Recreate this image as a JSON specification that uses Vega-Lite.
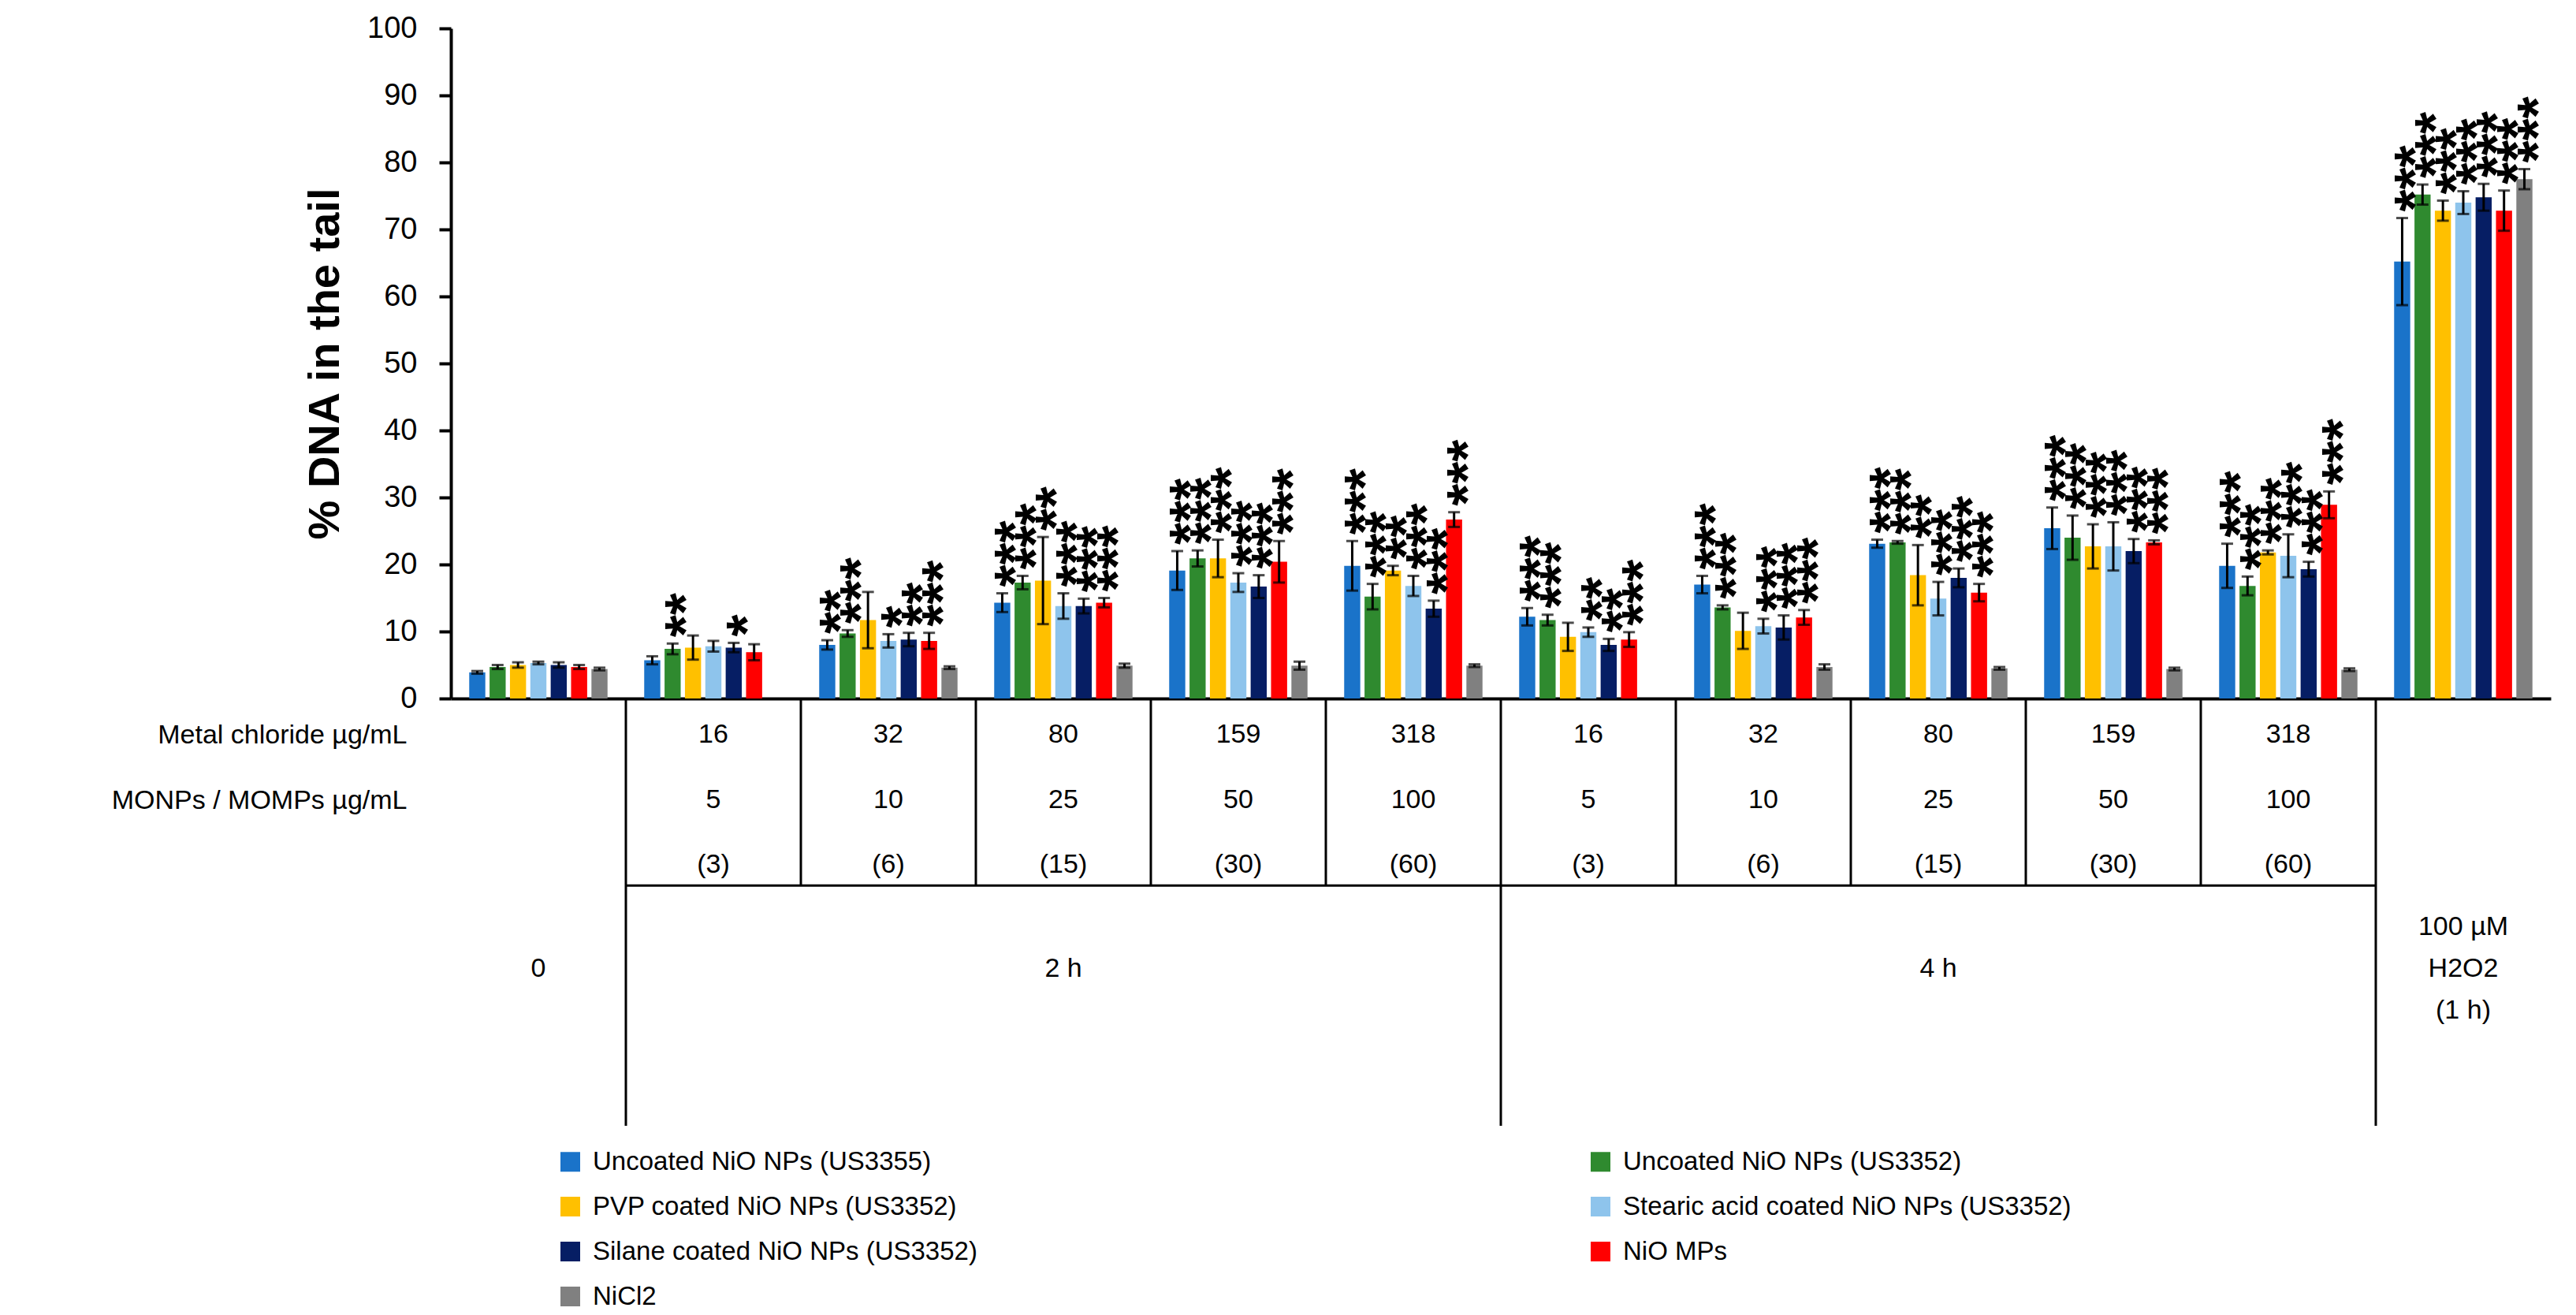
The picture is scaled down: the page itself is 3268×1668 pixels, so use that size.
{
  "$schema": "https://vega.github.io/schema/vega-lite/v6.json",
  "autosize": {"type": "pad"},
  "padding": {"left": 141, "top": 17, "right": 0, "bottom": 0},
  "background": "white",
  "bounds": "flush",
  "spacing": 0,
  "config": {"font": "Liberation Sans", "view": {"stroke": null}},
  "resolve": {"scale": {"x": "independent", "y": "independent"}},
  "datasets": {
    "bars": [
      {"g": "0", "s": "Uncoated NiO NPs (US3355)", "v": 3.9, "lo": 3.7, "hi": 4.1, "st": ""},
      {"g": "0", "s": "Uncoated NiO NPs (US3352)", "v": 4.7, "lo": 4.4, "hi": 5.0, "st": ""},
      {"g": "0", "s": "PVP coated NiO NPs (US3352)", "v": 5.0, "lo": 4.6, "hi": 5.4, "st": ""},
      {"g": "0", "s": "Stearic acid coated NiO NPs (US3352)", "v": 5.3, "lo": 5.1, "hi": 5.5, "st": ""},
      {"g": "0", "s": "Silane coated NiO NPs (US3352)", "v": 5.0, "lo": 4.6, "hi": 5.4, "st": ""},
      {"g": "0", "s": "NiO MPs", "v": 4.7, "lo": 4.4, "hi": 5.0, "st": ""},
      {"g": "0", "s": "NiCl2", "v": 4.4, "lo": 4.2, "hi": 4.6, "st": ""},

      {"g": "2h-16", "s": "Uncoated NiO NPs (US3355)", "v": 5.7, "lo": 5.1, "hi": 6.3, "st": ""},
      {"g": "2h-16", "s": "Uncoated NiO NPs (US3352)", "v": 7.4, "lo": 6.6, "hi": 8.2, "st": "**"},
      {"g": "2h-16", "s": "PVP coated NiO NPs (US3352)", "v": 7.6, "lo": 5.8, "hi": 9.4, "st": ""},
      {"g": "2h-16", "s": "Stearic acid coated NiO NPs (US3352)", "v": 7.8, "lo": 7.0, "hi": 8.6, "st": ""},
      {"g": "2h-16", "s": "Silane coated NiO NPs (US3352)", "v": 7.6, "lo": 6.9, "hi": 8.3, "st": "*"},
      {"g": "2h-16", "s": "NiO MPs", "v": 6.9, "lo": 5.7, "hi": 8.1, "st": ""},

      {"g": "2h-32", "s": "Uncoated NiO NPs (US3355)", "v": 8.0, "lo": 7.3, "hi": 8.7, "st": "**"},
      {"g": "2h-32", "s": "Uncoated NiO NPs (US3352)", "v": 9.7, "lo": 9.2, "hi": 10.2, "st": "***"},
      {"g": "2h-32", "s": "PVP coated NiO NPs (US3352)", "v": 11.7, "lo": 7.5, "hi": 15.9, "st": ""},
      {"g": "2h-32", "s": "Stearic acid coated NiO NPs (US3352)", "v": 8.6, "lo": 7.6, "hi": 9.6, "st": "*"},
      {"g": "2h-32", "s": "Silane coated NiO NPs (US3352)", "v": 8.8, "lo": 7.8, "hi": 9.8, "st": "**"},
      {"g": "2h-32", "s": "NiO MPs", "v": 8.6, "lo": 7.4, "hi": 9.8, "st": "***"},
      {"g": "2h-32", "s": "NiCl2", "v": 4.6, "lo": 4.4, "hi": 4.8, "st": ""},

      {"g": "2h-80", "s": "Uncoated NiO NPs (US3355)", "v": 14.3, "lo": 12.9, "hi": 15.7, "st": "***"},
      {"g": "2h-80", "s": "Uncoated NiO NPs (US3352)", "v": 17.3, "lo": 16.3, "hi": 18.3, "st": "***"},
      {"g": "2h-80", "s": "PVP coated NiO NPs (US3352)", "v": 17.6, "lo": 11.1, "hi": 24.1, "st": "**"},
      {"g": "2h-80", "s": "Stearic acid coated NiO NPs (US3352)", "v": 13.8, "lo": 11.9, "hi": 15.7, "st": "***"},
      {"g": "2h-80", "s": "Silane coated NiO NPs (US3352)", "v": 13.8, "lo": 12.7, "hi": 14.9, "st": "***"},
      {"g": "2h-80", "s": "NiO MPs", "v": 14.3, "lo": 13.6, "hi": 15.0, "st": "***"},
      {"g": "2h-80", "s": "NiCl2", "v": 4.9, "lo": 4.6, "hi": 5.2, "st": ""},

      {"g": "2h-159", "s": "Uncoated NiO NPs (US3355)", "v": 19.1, "lo": 16.2, "hi": 22.0, "st": "***"},
      {"g": "2h-159", "s": "Uncoated NiO NPs (US3352)", "v": 20.9, "lo": 19.7, "hi": 22.1, "st": "***"},
      {"g": "2h-159", "s": "PVP coated NiO NPs (US3352)", "v": 20.9, "lo": 18.1, "hi": 23.7, "st": "***"},
      {"g": "2h-159", "s": "Stearic acid coated NiO NPs (US3352)", "v": 17.3, "lo": 15.9, "hi": 18.7, "st": "***"},
      {"g": "2h-159", "s": "Silane coated NiO NPs (US3352)", "v": 16.7, "lo": 15.0, "hi": 18.4, "st": "***"},
      {"g": "2h-159", "s": "NiO MPs", "v": 20.4, "lo": 17.3, "hi": 23.5, "st": "***"},
      {"g": "2h-159", "s": "NiCl2", "v": 4.9, "lo": 4.3, "hi": 5.5, "st": ""},

      {"g": "2h-318", "s": "Uncoated NiO NPs (US3355)", "v": 19.8, "lo": 16.1, "hi": 23.5, "st": "***"},
      {"g": "2h-318", "s": "Uncoated NiO NPs (US3352)", "v": 15.2, "lo": 13.3, "hi": 17.1, "st": "***"},
      {"g": "2h-318", "s": "PVP coated NiO NPs (US3352)", "v": 19.1, "lo": 18.4, "hi": 19.8, "st": "**"},
      {"g": "2h-318", "s": "Stearic acid coated NiO NPs (US3352)", "v": 16.8, "lo": 15.3, "hi": 18.3, "st": "***"},
      {"g": "2h-318", "s": "Silane coated NiO NPs (US3352)", "v": 13.4, "lo": 12.2, "hi": 14.6, "st": "***"},
      {"g": "2h-318", "s": "NiO MPs", "v": 26.7, "lo": 25.6, "hi": 27.8, "st": "***"},
      {"g": "2h-318", "s": "NiCl2", "v": 4.9, "lo": 4.7, "hi": 5.1, "st": ""},

      {"g": "4h-16", "s": "Uncoated NiO NPs (US3355)", "v": 12.2, "lo": 10.9, "hi": 13.5, "st": "***"},
      {"g": "4h-16", "s": "Uncoated NiO NPs (US3352)", "v": 11.7, "lo": 10.9, "hi": 12.5, "st": "***"},
      {"g": "4h-16", "s": "PVP coated NiO NPs (US3352)", "v": 9.2, "lo": 7.1, "hi": 11.3, "st": ""},
      {"g": "4h-16", "s": "Stearic acid coated NiO NPs (US3352)", "v": 9.9, "lo": 9.2, "hi": 10.6, "st": "**"},
      {"g": "4h-16", "s": "Silane coated NiO NPs (US3352)", "v": 8.0, "lo": 7.1, "hi": 8.9, "st": "**"},
      {"g": "4h-16", "s": "NiO MPs", "v": 8.8, "lo": 7.7, "hi": 9.9, "st": "***"},

      {"g": "4h-32", "s": "Uncoated NiO NPs (US3355)", "v": 17.0, "lo": 15.7, "hi": 18.3, "st": "***"},
      {"g": "4h-32", "s": "Uncoated NiO NPs (US3352)", "v": 13.6, "lo": 13.3, "hi": 13.9, "st": "***"},
      {"g": "4h-32", "s": "PVP coated NiO NPs (US3352)", "v": 10.1, "lo": 7.4, "hi": 12.8, "st": ""},
      {"g": "4h-32", "s": "Stearic acid coated NiO NPs (US3352)", "v": 10.8, "lo": 9.7, "hi": 11.9, "st": "***"},
      {"g": "4h-32", "s": "Silane coated NiO NPs (US3352)", "v": 10.6, "lo": 8.8, "hi": 12.4, "st": "***"},
      {"g": "4h-32", "s": "NiO MPs", "v": 12.1, "lo": 11.0, "hi": 13.2, "st": "***"},
      {"g": "4h-32", "s": "NiCl2", "v": 4.7, "lo": 4.3, "hi": 5.1, "st": ""},

      {"g": "4h-80", "s": "Uncoated NiO NPs (US3355)", "v": 23.1, "lo": 22.5, "hi": 23.7, "st": "***"},
      {"g": "4h-80", "s": "Uncoated NiO NPs (US3352)", "v": 23.3, "lo": 23.1, "hi": 23.5, "st": "***"},
      {"g": "4h-80", "s": "PVP coated NiO NPs (US3352)", "v": 18.4, "lo": 13.9, "hi": 22.9, "st": "**"},
      {"g": "4h-80", "s": "Stearic acid coated NiO NPs (US3352)", "v": 14.9, "lo": 12.4, "hi": 17.4, "st": "***"},
      {"g": "4h-80", "s": "Silane coated NiO NPs (US3352)", "v": 18.0, "lo": 16.6, "hi": 19.4, "st": "***"},
      {"g": "4h-80", "s": "NiO MPs", "v": 15.8, "lo": 14.5, "hi": 17.1, "st": "***"},
      {"g": "4h-80", "s": "NiCl2", "v": 4.5, "lo": 4.3, "hi": 4.7, "st": ""},

      {"g": "4h-159", "s": "Uncoated NiO NPs (US3355)", "v": 25.4, "lo": 22.3, "hi": 28.5, "st": "***"},
      {"g": "4h-159", "s": "Uncoated NiO NPs (US3352)", "v": 24.0, "lo": 20.7, "hi": 27.3, "st": "***"},
      {"g": "4h-159", "s": "PVP coated NiO NPs (US3352)", "v": 22.7, "lo": 19.4, "hi": 26.0, "st": "***"},
      {"g": "4h-159", "s": "Stearic acid coated NiO NPs (US3352)", "v": 22.7, "lo": 19.1, "hi": 26.3, "st": "***"},
      {"g": "4h-159", "s": "Silane coated NiO NPs (US3352)", "v": 22.0, "lo": 20.2, "hi": 23.8, "st": "***"},
      {"g": "4h-159", "s": "NiO MPs", "v": 23.3, "lo": 23.0, "hi": 23.6, "st": "***"},
      {"g": "4h-159", "s": "NiCl2", "v": 4.4, "lo": 4.2, "hi": 4.6, "st": ""},

      {"g": "4h-318", "s": "Uncoated NiO NPs (US3355)", "v": 19.8, "lo": 16.5, "hi": 23.1, "st": "***"},
      {"g": "4h-318", "s": "Uncoated NiO NPs (US3352)", "v": 16.8, "lo": 15.4, "hi": 18.2, "st": "***"},
      {"g": "4h-318", "s": "PVP coated NiO NPs (US3352)", "v": 21.8, "lo": 21.5, "hi": 22.1, "st": "***"},
      {"g": "4h-318", "s": "Stearic acid coated NiO NPs (US3352)", "v": 21.3, "lo": 18.1, "hi": 24.5, "st": "***"},
      {"g": "4h-318", "s": "Silane coated NiO NPs (US3352)", "v": 19.3, "lo": 18.2, "hi": 20.4, "st": "***"},
      {"g": "4h-318", "s": "NiO MPs", "v": 28.9, "lo": 26.9, "hi": 30.9, "st": "***"},
      {"g": "4h-318", "s": "NiCl2", "v": 4.3, "lo": 4.1, "hi": 4.5, "st": ""},

      {"g": "H2O2", "s": "Uncoated NiO NPs (US3355)", "v": 65.2, "lo": 58.7, "hi": 71.7, "st": "***"},
      {"g": "H2O2", "s": "Uncoated NiO NPs (US3352)", "v": 75.2, "lo": 73.7, "hi": 76.7, "st": "***"},
      {"g": "H2O2", "s": "PVP coated NiO NPs (US3352)", "v": 72.8, "lo": 71.3, "hi": 74.3, "st": "***"},
      {"g": "H2O2", "s": "Stearic acid coated NiO NPs (US3352)", "v": 74.0, "lo": 72.3, "hi": 75.7, "st": "***"},
      {"g": "H2O2", "s": "Silane coated NiO NPs (US3352)", "v": 74.8, "lo": 72.8, "hi": 76.8, "st": "***"},
      {"g": "H2O2", "s": "NiO MPs", "v": 72.8, "lo": 69.8, "hi": 75.8, "st": "***"},
      {"g": "H2O2", "s": "NiCl2", "v": 77.5, "lo": 76.0, "hi": 79.0, "st": "***"}
    ],
    "tbl": [
      {"g": "2h-16", "level": 0.56, "t": "16"}, {"g": "2h-32", "level": 0.56, "t": "32"}, {"g": "2h-80", "level": 0.56, "t": "80"}, {"g": "2h-159", "level": 0.56, "t": "159"}, {"g": "2h-318", "level": 0.56, "t": "318"},
      {"g": "4h-16", "level": 0.56, "t": "16"}, {"g": "4h-32", "level": 0.56, "t": "32"}, {"g": "4h-80", "level": 0.56, "t": "80"}, {"g": "4h-159", "level": 0.56, "t": "159"}, {"g": "4h-318", "level": 0.56, "t": "318"},
      {"g": "2h-16", "level": 1.57, "t": "5"}, {"g": "2h-32", "level": 1.57, "t": "10"}, {"g": "2h-80", "level": 1.57, "t": "25"}, {"g": "2h-159", "level": 1.57, "t": "50"}, {"g": "2h-318", "level": 1.57, "t": "100"},
      {"g": "4h-16", "level": 1.57, "t": "5"}, {"g": "4h-32", "level": 1.57, "t": "10"}, {"g": "4h-80", "level": 1.57, "t": "25"}, {"g": "4h-159", "level": 1.57, "t": "50"}, {"g": "4h-318", "level": 1.57, "t": "100"},
      {"g": "2h-16", "level": 2.56, "t": "(3)"}, {"g": "2h-32", "level": 2.56, "t": "(6)"}, {"g": "2h-80", "level": 2.56, "t": "(15)"}, {"g": "2h-159", "level": 2.56, "t": "(30)"}, {"g": "2h-318", "level": 2.56, "t": "(60)"},
      {"g": "4h-16", "level": 2.56, "t": "(3)"}, {"g": "4h-32", "level": 2.56, "t": "(6)"}, {"g": "4h-80", "level": 2.56, "t": "(15)"}, {"g": "4h-159", "level": 2.56, "t": "(30)"}, {"g": "4h-318", "level": 2.56, "t": "(60)"},
      {"g": "0", "level": 4.16, "t": "0"}, {"g": "2h-80", "level": 4.16, "t": "2 h"}, {"g": "4h-80", "level": 4.16, "t": "4 h"}
    ],
    "tbl2": [
      {"g": "H2O2", "level": 4.16, "t": "100 µM\nH2O2\n(1 h)"}
    ],
    "vr": [
      {"g": "2h-16", "top": 0, "bottom": 6.58}, {"g": "2h-32", "top": 0, "bottom": 2.88}, {"g": "2h-80", "top": 0, "bottom": 2.88}, {"g": "2h-159", "top": 0, "bottom": 2.88}, {"g": "2h-318", "top": 0, "bottom": 2.88},
      {"g": "4h-16", "top": 0, "bottom": 6.58}, {"g": "4h-32", "top": 0, "bottom": 2.88}, {"g": "4h-80", "top": 0, "bottom": 2.88}, {"g": "4h-159", "top": 0, "bottom": 2.88}, {"g": "4h-318", "top": 0, "bottom": 2.88},
      {"g": "H2O2", "top": 0, "bottom": 6.58}
    ],
    "hr": [
      {"g": "2h-16", "g2": "H2O2", "level": 2.88}
    ]
  },
  "vconcat": [
    {
      "width": 2664,
      "height": 850,
      "data": {"name": "bars"},
      "encoding": {
        "x": {"field": "g", "type": "nominal", "sort": null,
          "scale": {"domain": ["0", "2h-16", "2h-32", "2h-80", "2h-159", "2h-318", "4h-16", "4h-32", "4h-80", "4h-159", "4h-318", "H2O2"], "paddingInner": 0, "paddingOuter": 0},
          "axis": {"labels": false, "ticks": false, "title": null, "grid": false, "domainWidth": 4, "domainColor": "black"}},
        "xOffset": {"field": "s", "type": "nominal",
          "scale": {"domain": ["Uncoated NiO NPs (US3355)", "Uncoated NiO NPs (US3352)", "PVP coated NiO NPs (US3352)", "Stearic acid coated NiO NPs (US3352)", "Silane coated NiO NPs (US3352)", "NiO MPs", "NiCl2"], "paddingInner": 0.21, "paddingOuter": 0.9}}
      },
      "layer": [
        {
          "mark": {"type": "bar"},
          "encoding": {
            "y": {"field": "v", "type": "quantitative",
              "scale": {"domain": [0, 100], "nice": false, "zero": true},
              "axis": {"title": "% DNA in the tail", "titleFontSize": 56, "titleFontWeight": "bold", "titleColor": "black", "titlePadding": 24,
                "values": [0, 10, 20, 30, 40, 50, 60, 70, 80, 90, 100], "labelFontSize": 38, "labelColor": "black", "labelPadding": 28,
                "tickSize": 15, "tickWidth": 4, "tickColor": "black", "domainWidth": 4, "domainColor": "black", "grid": false}},
            "color": {"field": "s", "type": "nominal",
              "scale": {"domain": ["Uncoated NiO NPs (US3355)", "Uncoated NiO NPs (US3352)", "PVP coated NiO NPs (US3352)", "Stearic acid coated NiO NPs (US3352)", "Silane coated NiO NPs (US3352)", "NiO MPs", "NiCl2"],
                "range": ["#1A73C9", "#2F8A2F", "#FFC000", "#8EC4EC", "#061E64", "#FF0000", "#808080"]},
              "legend": {"orient": "none", "legendX": 135, "legendY": 1421, "columns": 2, "direction": "horizontal", "title": null, "symbolType": "square", "symbolSize": 625, "symbolStrokeWidth": 0,
                "labelFontSize": 33, "labelColor": "black", "labelLimit": 1000, "columnPadding": 774, "rowPadding": 23, "labelOffset": 12, "gridAlign": "each", "padding": 0}}
          }
        },
        {
          "mark": {"type": "rule", "strokeWidth": 3, "color": "black"},
          "encoding": {"y": {"field": "lo", "type": "quantitative"}, "y2": {"field": "hi"}}
        },
        {
          "mark": {"type": "tick", "orient": "horizontal", "size": 15, "thickness": 3, "color": "black"},
          "encoding": {"y": {"field": "lo", "type": "quantitative"}}
        },
        {
          "mark": {"type": "tick", "orient": "horizontal", "size": 15, "thickness": 3, "color": "black"},
          "encoding": {"y": {"field": "hi", "type": "quantitative"}}
        },
        {
          "transform": [{"filter": "datum.st != ''"}],
          "mark": {"type": "text", "angle": 270, "align": "left", "baseline": "alphabetic", "fontSize": 72, "fontWeight": "bold", "dx": 8, "dy": 41, "color": "black"},
          "encoding": {"y": {"field": "hi", "type": "quantitative"}, "text": {"field": "st"}}
        }
      ]
    },
    {
      "width": 2664,
      "height": 542,
      "encoding": {
        "x": {"field": "g", "type": "nominal", "sort": null,
          "scale": {"domain": ["0", "2h-16", "2h-32", "2h-80", "2h-159", "2h-318", "4h-16", "4h-32", "4h-80", "4h-159", "4h-318", "H2O2"], "paddingInner": 0, "paddingOuter": 0},
          "axis": null}
      },
      "layer": [
        {
          "data": {"name": "tbl"},
          "mark": {"type": "text", "fontSize": 34, "color": "black", "baseline": "middle", "align": "center"},
          "encoding": {
            "y": {"field": "level", "type": "quantitative", "scale": {"domain": [0, 6.58], "reverse": true, "nice": false, "zero": false},
              "axis": {"values": [0.56, 1.57], "labelExpr": "datum.value < 1 ? 'Metal chloride µg/mL' : 'MONPs / MOMPs µg/mL'", "domain": false, "ticks": false, "grid": false, "title": null, "labelFontSize": 34, "labelColor": "black", "labelPadding": 56, "labelLimit": 1000}},
            "text": {"field": "t"}
          }
        },
        {
          "data": {"name": "tbl2"},
          "mark": {"type": "text", "fontSize": 34, "color": "black", "baseline": "middle", "align": "center", "lineBreak": "\n", "lineHeight": 53, "dy": -53},
          "encoding": {
            "y": {"field": "level", "type": "quantitative"},
            "text": {"field": "t"}
          }
        },
        {
          "data": {"name": "vr"},
          "mark": {"type": "rule", "strokeWidth": 3, "color": "black"},
          "encoding": {
            "x": {"field": "g", "type": "nominal", "bandPosition": 0},
            "y": {"field": "top", "type": "quantitative"},
            "y2": {"field": "bottom"}
          }
        },
        {
          "data": {"name": "hr"},
          "mark": {"type": "rule", "strokeWidth": 3, "color": "black"},
          "encoding": {
            "x": {"field": "g", "type": "nominal", "bandPosition": 0},
            "x2": {"field": "g2", "bandPosition": 0},
            "y": {"field": "level", "type": "quantitative"}
          }
        }
      ]
    }
  ]
}
